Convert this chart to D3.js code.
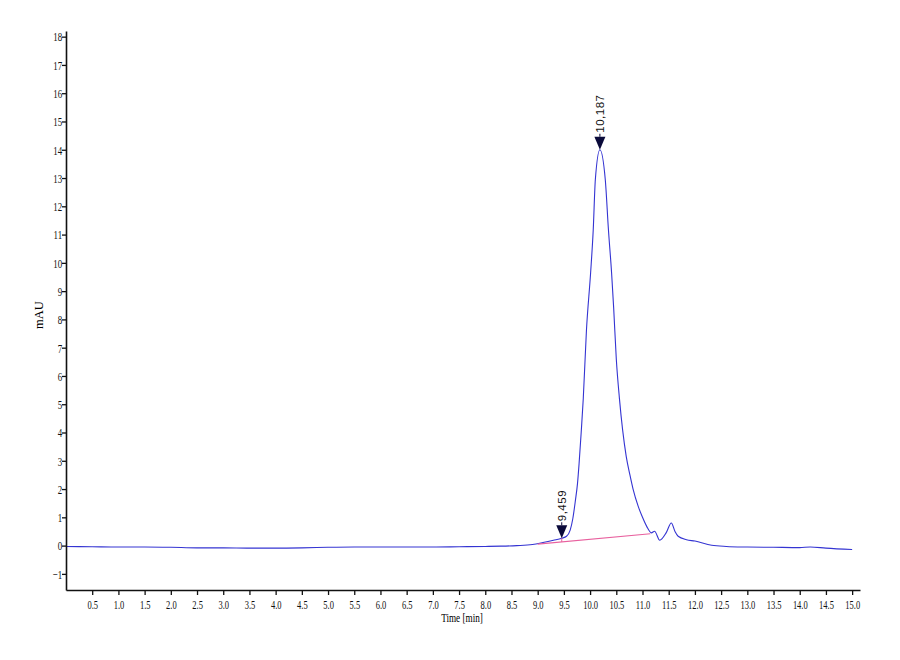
<!DOCTYPE html>
<html>
<head>
<meta charset="utf-8">
<script src="https://cdn.jsdelivr.net/npm/d3@7"></script>
<style>
  body { margin: 0; background: #fff; }
  svg { display: block; background: #fff; }
  .axis text { font-family: "Liberation Serif", "Times New Roman", serif; font-size: 13.5px; fill: #111; }
  .xaxis .tick text { transform-box: fill-box; transform-origin: center; transform: scaleX(0.63); }
  .yaxis .tick text { transform-box: fill-box; transform-origin: right center; transform: scaleX(0.66); }
  .axis path, .axis line { stroke: #111; }
  .axis path { stroke-width: 1.6px; }
  .axis line { stroke-width: 1.3px; }
</style>
</head>
<body>
<svg id="chart" width="900" height="660"></svg>
<script>
// ---- data ----
const times = [0.0, 0.5, 1.0, 1.5, 2.0, 2.5, 3.0, 3.5, 4.0, 4.5, 5.0, 5.5, 6.0, 6.5, 7.0, 7.5, 8.0, 8.3, 8.6, 8.9, 9.1, 9.3, 9.459, 9.55, 9.62, 9.67, 9.72, 9.76, 9.79, 9.83, 9.87, 9.93, 10.01, 10.06, 10.10, 10.187, 10.29, 10.35, 10.41, 10.45, 10.50, 10.56, 10.62, 10.69, 10.76, 10.82, 10.92, 11.0, 11.08, 11.17, 11.23, 11.33, 11.45, 11.55, 11.62, 11.68, 11.84, 12.0, 12.32, 12.6, 13.0, 13.5, 14.0, 14.2, 14.5, 15.0];
const signal = [-0.03, -0.04, -0.05, -0.05, -0.06, -0.08, -0.08, -0.09, -0.09, -0.08, -0.06, -0.05, -0.05, -0.05, -0.05, -0.04, -0.03, -0.02, 0.0, 0.04, 0.11, 0.19, 0.26, 0.33, 0.55, 0.95, 1.6, 2.2, 2.9, 4.0, 5.2, 7.6, 9.65, 11.17, 12.94, 14.0, 12.94, 11.17, 9.65, 8.4, 6.6, 5.2, 4.1, 3.15, 2.5, 2.0, 1.38, 1.0, 0.68, 0.45, 0.51, 0.19, 0.45, 0.80, 0.5, 0.33, 0.21, 0.16, 0.01, -0.03, -0.05, -0.06, -0.07, -0.05, -0.09, -0.14];
const baselineTimes = [9.0, 11.15];
const baselineValues = [0.05, 0.42];
const peakTimes = [9.459, 10.187];
const peakValues = [0.26, 14.0];
const peakLabels = ["9,459", "10,187"];
const xTickValues = [0.5, 1.0, 1.5, 2.0, 2.5, 3.0, 3.5, 4.0, 4.5, 5.0, 5.5, 6.0, 6.5, 7.0, 7.5, 8.0, 8.5, 9.0, 9.5, 10.0, 10.5, 11.0, 11.5, 12.0, 12.5, 13.0, 13.5, 14.0, 14.5, 15.0];
const yTickValues = [-1, 0, 1, 2, 3, 4, 5, 6, 7, 8, 9, 10, 11, 12, 13, 14, 15, 16, 17, 18];
const xTitle = "Time [min]";
const yTitle = "mAU";

const svg = d3.select("#chart");
const x = d3.scaleLinear().domain([0, 15.15]).range([66, 860]);
const y = d3.scaleLinear().domain([-1.57, 18.2]).range([590, 31]);

// trace
const trace = times.map((t, i) => [t, signal[i]]);
const line = d3.line().x(d => x(d[0])).y(d => y(d[1])).curve(d3.curveMonotoneX);
svg.append("path").datum(trace)
  .attr("d", line).attr("fill", "none")
  .attr("stroke", "#3434d2").attr("stroke-width", 1.1);

// integration baseline
const base = baselineTimes.map((t, i) => [t, baselineValues[i]]);
svg.append("path").datum(base)
  .attr("d", d3.line().x(d => x(d[0])).y(d => y(d[1])))
  .attr("fill", "none").attr("stroke", "#e8609e").attr("stroke-width", 1.2);
// drop line at first peak
const baseAt = t => baselineValues[0] + (baselineValues[1] - baselineValues[0]) * (t - baselineTimes[0]) / (baselineTimes[1] - baselineTimes[0]);
svg.append("line")
  .attr("x1", x(peakTimes[0])).attr("x2", x(peakTimes[0]))
  .attr("y1", y(peakValues[0])).attr("y2", y(baseAt(peakTimes[0])))
  .attr("stroke", "#e8609e").attr("stroke-width", 1);

// axes
svg.append("g").attr("class", "axis xaxis")
  .attr("transform", `translate(0,${y.range()[0]})`)
  .call(d3.axisBottom(x).tickValues(xTickValues).tickFormat(d3.format(".1f")).tickSize(5).tickPadding(4).tickSizeOuter(0));
svg.append("g").attr("class", "axis yaxis")
  .attr("transform", `translate(${x.range()[0]},0)`)
  .call(d3.axisLeft(y).tickValues(yTickValues).tickFormat(d3.format("d")).tickSize(4).tickPadding(0).tickSizeOuter(0));

// titles
svg.append("text")
  .attr("x", 462).attr("y", 622)
  .attr("text-anchor", "middle")
  .attr("font-family", "Liberation Serif, Times New Roman, serif")
  .attr("font-size", 13.5)
  .attr("transform", "translate(462,0) scale(0.68,1) translate(-462,0)")
  .text(xTitle);
svg.append("text")
  .attr("transform", "translate(43,315) rotate(-90)")
  .attr("text-anchor", "middle")
  .attr("font-family", "Liberation Serif, Times New Roman, serif")
  .attr("font-size", 12.5)
  .text(yTitle);

// peak markers
const peaks = svg.append("g");
peakTimes.forEach((t, i) => {
  const px = x(t), py = y(peakValues[i]);
  peaks.append("path")
    .attr("d", `M${px - 5.5},${py - 13} L${px + 5.5},${py - 13} L${px},${py} Z`)
    .attr("fill", "#0a0a3a");
  peaks.append("line")
    .attr("x1", px).attr("x2", px).attr("y1", py - 16).attr("y2", py - 13)
    .attr("stroke", "#0a0a3a").attr("stroke-width", 1);
  peaks.append("text")
    .attr("transform", `translate(${px + 4},${py - 17}) rotate(-90)`)
    .attr("text-anchor", "start")
    .attr("font-family", "Liberation Sans, Arial, sans-serif")
    .attr("font-size", 11.5)
    .attr("letter-spacing", 0.5)
    .attr("fill", "#111")
    .text(peakLabels[i]);
});
</script>
</body>
</html>
